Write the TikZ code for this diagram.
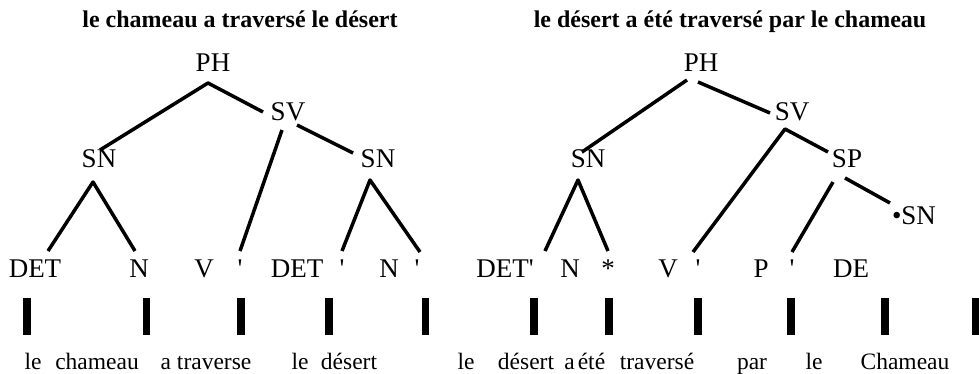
\documentclass[tikz,border=0pt]{standalone}
\usepackage{fontspec}
\setmainfont{Liberation Serif}
\begin{document}
\begin{tikzpicture}[x=1pt,y=-1pt,
  lab/.style={font=\fontsize{27}{30}\selectfont, inner sep=0pt, anchor=base},
  word/.style={font=\fontsize{23.5}{26}\selectfont, inner sep=0pt, anchor=base},
  ttl/.style={font=\fontsize{24}{28}\selectfont\bfseries, inner sep=0pt, anchor=base},
  br/.style={line width=3.5pt, line join=round},
  barnode/.style={fill=black, inner sep=0pt, minimum width=7.5pt, minimum height=37pt, draw=none}]
\useasboundingbox (0,0) rectangle (979,373);

% titles
\node[ttl] (t1) at (240,27) {le chameau a traversé le désert};
\node[ttl] (t2) at (730,27) {le désert a été traversé par le chameau};

% left tree labels
\node[lab] (LPH) at (213,71) {PH};
\node[lab] (LSV) at (288,120) {SV};
\node[lab] (LSN1) at (99,167) {SN};
\node[lab] (LSN2) at (378,167) {SN};
\node[lab] (LDET1) at (35,277) {DET};
\node[lab] (LN1) at (139,277) {N};
\node[lab] (LV) at (204,277) {V};
\node[lab] (LQ1) at (240,277) {\textquotesingle};
\node[lab] (LDET2) at (297,277) {DET};
\node[lab] (LQ2) at (342,277) {\textquotesingle};
\node[lab] (LN2) at (389,277) {N};
\node[lab] (LQ3) at (417,277) {\textquotesingle};

% right tree labels
\node[lab] (RPH) at (701,71) {PH};
\node[lab] (RSV) at (792,120) {SV};
\node[lab] (RSN1) at (588,167) {SN};
\node[lab] (RSP) at (847,167) {SP};
\node[lab] (RSN2) at (914,224) {•SN};
\node[lab] (RDET) at (505,277) {DET\textquotesingle};
\node[lab] (RN) at (570,277) {N};
\node[lab] (RAST) at (608,277) {*};
\node[lab] (RV) at (668,277) {V};
\node[lab] (RQ1) at (698,277) {\textquotesingle};
\node[lab] (RP) at (761,277) {P};
\node[lab] (RQ2) at (792,277) {\textquotesingle};
\node[lab] (RDE) at (851,277) {DE};

% connector points, left tree
\coordinate (Lphb) at (208,83);
\coordinate (Lsn1t) at (100,150);
\coordinate (Lsvt) at (263,112);
\coordinate (Lsvb1) at (282,130);
\coordinate (Lvq) at (240,251);
\coordinate (Lsvb2) at (297,125);
\coordinate (Lsn2t) at (353,153);
\coordinate (Lsn1b) at (93,182);
\coordinate (Ldet1t) at (48,251);
\coordinate (Ln1t) at (135,251);
\coordinate (Lsn2b) at (370,180);
\coordinate (Lq2t) at (342,251);
\coordinate (Lq3t) at (420,252);

\draw[br] (Lsn1t) -- (Lphb) -- (Lsvt);
\draw[br] (Lsvb1) -- (Lvq);
\draw[br] (Lsvb2) -- (Lsn2t);
\draw[br] (Ldet1t) -- (Lsn1b) -- (Ln1t);
\draw[br] (Lq2t) -- (Lsn2b) -- (Lq3t);

% connector points, right tree
\coordinate (Rphb1) at (687,80);
\coordinate (Rsn1t) at (582,152);
\coordinate (Rphb2) at (698,82);
\coordinate (Rsvt) at (770,113);
\coordinate (Rsvb) at (785,129);
\coordinate (Rvq) at (693,252);
\coordinate (Rspt) at (828,152);
\coordinate (Rsn1b) at (578,180);
\coordinate (Rdett) at (545,251);
\coordinate (Rastt) at (608,251);
\coordinate (Rspb1) at (833,182);
\coordinate (Rpq) at (792,252);
\coordinate (Rspb2) at (845,178);
\coordinate (Rsn2t) at (890,203);

\draw[br] (Rsn1t) -- (Rphb1);
\draw[br] (Rphb2) -- (Rsvt);
\draw[br] (Rvq) -- (Rsvb) -- (Rspt);
\draw[br] (Rdett) -- (Rsn1b) -- (Rastt);
\draw[br] (Rpq) -- (Rspb1);
\draw[br] (Rspb2) -- (Rsn2t);

% bars
\node[barnode] (b1) at (27,316.5) {};
\node[barnode] (b2) at (146.5,316.5) {};
\node[barnode] (b3) at (241,316.5) {};
\node[barnode] (b4) at (329,316.5) {};
\node[barnode] (b5) at (425.5,316.5) {};
\node[barnode] (b6) at (534,316.5) {};
\node[barnode] (b7) at (609,316.5) {};
\node[barnode] (b8) at (698,316.5) {};
\node[barnode] (b9) at (791,316.5) {};
\node[barnode] (b10) at (885,316.5) {};
\node[barnode] (b11) at (975.25,316.5) {};

% words
\node[word] (w1) at (33,369) {le};
\node[word] (w2) at (97,369) {chameau};
\node[word] (w3) at (206,369) {a traverse};
\node[word] (w4) at (300,369) {le};
\node[word] (w5) at (349,369) {désert};
\node[word] (w6) at (466,369) {le};
\node[word] (w7) at (526,369) {désert};
\node[word] (w8) at (569.5,369) {a};
\node[word] (w9) at (591.5,369) {été};
\node[word] (w10) at (657,369) {traversé};
\node[word] (w11) at (752,369) {par};
\node[word] (w12) at (814,369) {le};
\node[word] (w13) at (905,369) {Chameau};
\end{tikzpicture}
\end{document}
